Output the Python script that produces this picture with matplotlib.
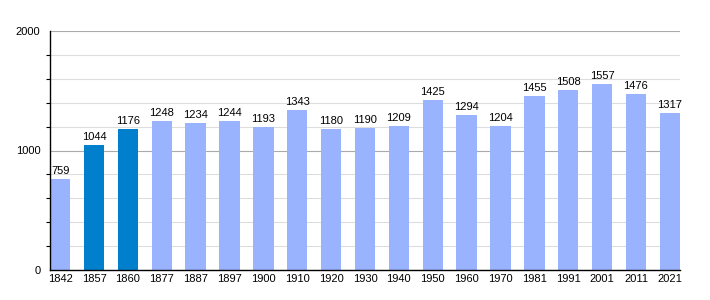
import matplotlib
matplotlib.use("Agg")
import matplotlib.pyplot as plt
from matplotlib.ticker import MultipleLocator

plt.rcParams['font.family'] = ['Liberation Sans', 'DejaVu Sans']

years = ['1842', '1857', '1860', '1877', '1887', '1897', '1900', '1910', '1920', '1930',
         '1940', '1950', '1960', '1970', '1981', '1991', '2001', '2011', '2021']
population = [759, 1044, 1176, 1248, 1234, 1244, 1193, 1343, 1180, 1190,
              1209, 1425, 1294, 1204, 1455, 1508, 1557, 1476, 1317]
highlight = ['1857', '1860']

light = '#99b3ff'
dark = '#0080cc'
colors = [dark if y in highlight else light for y in years]

fig = plt.figure(figsize=(7.1, 3.0), dpi=100)
ax = fig.add_axes([50 / 710, 30 / 300, 630 / 710, 239 / 300])

x = range(len(years))
ax.bar(x, population, width=0.6, color=colors, zorder=3)
for xi, v in zip(x, population):
    ax.text(xi, v + 25, str(v), ha='center', va='bottom', fontsize=8, zorder=4)

ax.set_xlim(-0.3, len(years) - 0.7)
ax.set_ylim(0, 2000)
ax.set_xticks(list(x))
ax.set_xticklabels(years, fontsize=8)
ax.yaxis.set_major_locator(MultipleLocator(1000))
ax.yaxis.set_minor_locator(MultipleLocator(200))
ax.tick_params(axis='y', which='major', labelsize=8, length=0, pad=7)
ax.tick_params(axis='y', which='minor', length=3, width=0.8)
ax.tick_params(axis='x', length=0, pad=3)

ax.grid(axis='y', which='minor', color='#dddddd', linewidth=0.8, zorder=0)
ax.grid(axis='y', which='major', color='#aaaaaa', linewidth=0.8, zorder=1)

for side in ['top', 'right']:
    ax.spines[side].set_visible(False)
ax.spines['left'].set_linewidth(1)
ax.spines['bottom'].set_linewidth(1)
ax.spines['left'].set_zorder(5)
ax.spines['bottom'].set_zorder(5)

fig.savefig('out.png', dpi=100)
